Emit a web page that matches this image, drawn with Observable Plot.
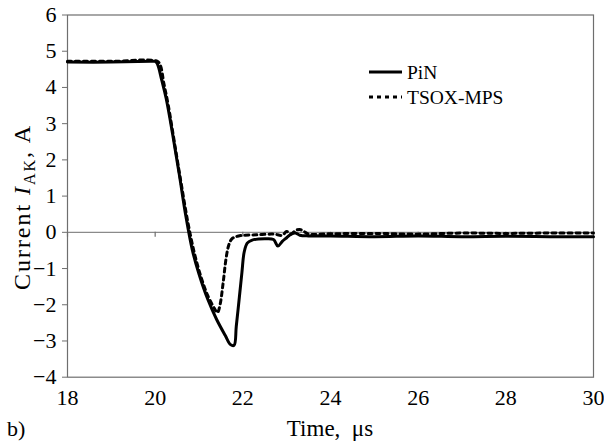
<!DOCTYPE html>
<html>
<head>
<meta charset="utf-8">
<script src="https://cdn.jsdelivr.net/npm/d3@7"></script>
<script src="https://cdn.jsdelivr.net/npm/@observablehq/plot@0.6"></script>
<style>
  html, body { margin: 0; padding: 0; background: #fff; }
  #chart { width: 604px; height: 442px; }
  #chart svg, #chart svg text { font-family: "Liberation Serif", "Times New Roman", serif !important; }
</style>
</head>
<body>
<div id="chart"></div>
<script>
// ---- data ----
const pinTime = [18, 19, 19.9, 20.0, 20.05, 20.15, 20.25, 20.4, 20.55, 20.7, 20.85, 21.0, 21.2, 21.4, 21.6, 21.72, 21.8, 21.85, 21.92, 21.98, 22.03, 22.1, 22.2, 22.5, 22.7, 22.8, 22.9, 23.0, 23.1, 23.2, 23.3, 23.5, 24, 25, 26, 27, 28, 29, 30];
const pinCurrent = [4.70, 4.70, 4.72, 4.72, 4.65, 4.2, 3.7, 2.7, 1.6, 0.45, -0.5, -1.15, -1.85, -2.4, -2.85, -3.1, -3.12, -2.6, -1.8, -1.1, -0.55, -0.3, -0.22, -0.18, -0.2, -0.38, -0.25, -0.15, -0.05, -0.02, -0.08, -0.1, -0.1, -0.12, -0.1, -0.12, -0.11, -0.12, -0.12];

const tsoxTime = [18, 19, 20.05, 20.12, 20.2, 20.3, 20.45, 20.6, 20.75, 20.9, 21.05, 21.2, 21.35, 21.42, 21.48, 21.55, 21.62, 21.68, 21.75, 21.9, 22.3, 22.7, 22.9, 23.0, 23.1, 23.2, 23.3, 23.4, 23.5, 24, 25, 26, 27, 28, 29, 30];
const tsoxCurrent = [4.72, 4.72, 4.72, 4.6, 4.1, 3.5, 2.4, 1.3, 0.25, -0.6, -1.25, -1.75, -2.1, -2.22, -2.0, -1.4, -0.7, -0.35, -0.18, -0.1, -0.07, -0.05, -0.08, 0.02, -0.05, 0.05, 0.08, 0.02, -0.05, -0.04, -0.03, -0.05, -0.02, -0.03, -0.02, -0.02];

const xTicks = [18, 20, 22, 24, 26, 28, 30];
const yTicks = [-4, -3, -2, -1, 0, 1, 2, 3, 4, 5, 6];
const seriesNames = ["PiN", "TSOX-MPS"];

// ---- build table ----
const pin = pinTime.map((t, i) => ({t, v: pinCurrent[i], s: seriesNames[0]}));
const tsox = tsoxTime.map((t, i) => ({t, v: tsoxCurrent[i], s: seriesNames[1]}));

const font = "Liberation Serif, Times New Roman, serif";
const gray = "#6e6e6e";

const plot = Plot.plot({
  width: 604,
  height: 442,
  marginLeft: 67,
  marginRight: 11,
  marginTop: 14.5,
  marginBottom: 65.3,
  style: {fontFamily: font, fontSize: "22px", color: "#000", background: "#fff"},
  x: {domain: [18, 30]},
  y: {domain: [-4, 6]},
  marks: [
    Plot.frame({stroke: gray, strokeWidth: 1.2}),
    Plot.ruleY([0], {stroke: "#8a8a8a", strokeWidth: 1.2}),
    Plot.ruleX(xTicks, {x: d => d, y1: 0, y2: 0, insetBottom: -5, stroke: gray, strokeWidth: 1.2}),
    Plot.axisY(yTicks, {anchor: "left", tickSize: 5, tickPadding: 6, stroke: gray, fontSize: 22, fontFamily: font, label: null, tickFormat: d => d < 0 ? "\u2212" + Math.abs(d) : String(d)}),
    Plot.axisX(xTicks, {anchor: "bottom", tickSize: 0, tickPadding: 12, fontSize: 22, fontFamily: font, label: null}),
    Plot.line(tsox, {x: "t", y: "v", stroke: "#000", strokeWidth: 3, strokeDasharray: "4,4", curve: "catmull-rom"}),
    Plot.line(pin, {x: "t", y: "v", stroke: "#000", strokeWidth: 3, curve: "catmull-rom"})
  ]
});

document.getElementById("chart").appendChild(plot);

// ---- extra text: axis titles, legend, panel label ----
const svg = d3.select(plot);

const yl = svg.append("text")
  .attr("transform", "translate(30,208) rotate(-90)")
  .attr("text-anchor", "middle")
  .attr("font-size", 24)
  .attr("fill", "#000")
  .attr("textLength", 164)
  .attr("lengthAdjust", "spacing");
yl.append("tspan").text("Current ");
yl.append("tspan").attr("font-style", "italic").text("I");
yl.append("tspan").attr("font-size", 16).attr("dy", 5).text("AK");
yl.append("tspan").attr("dy", -5).text(", A");

svg.append("text")
  .attr("x", 330).attr("y", 436)
  .attr("text-anchor", "middle")
  .attr("font-size", 23).attr("fill", "#000")
  .style("white-space", "pre")
  .text("Time,  \u03bcs");

svg.append("text")
  .attr("x", 7).attr("y", 436)
  .attr("text-anchor", "start")
  .attr("font-size", 22).attr("fill", "#000")
  .text("b)");

// legend
const legend = svg.append("g");
const legendRows = [
  {name: seriesNames[0], dash: null, y: 72},
  {name: seriesNames[1], dash: "4,4", y: 97}
];
legendRows.forEach(r => {
  legend.append("line")
    .attr("x1", 369).attr("x2", 402).attr("y1", r.y).attr("y2", r.y)
    .attr("stroke", "#000").attr("stroke-width", 3.2)
    .attr("stroke-dasharray", r.dash);
  legend.append("text")
    .attr("x", 407).attr("y", r.y + 7)
    .attr("text-anchor", "start")
    .attr("font-size", 19.5).attr("fill", "#000")
    .text(r.name);
});
</script>
</body>
</html>
